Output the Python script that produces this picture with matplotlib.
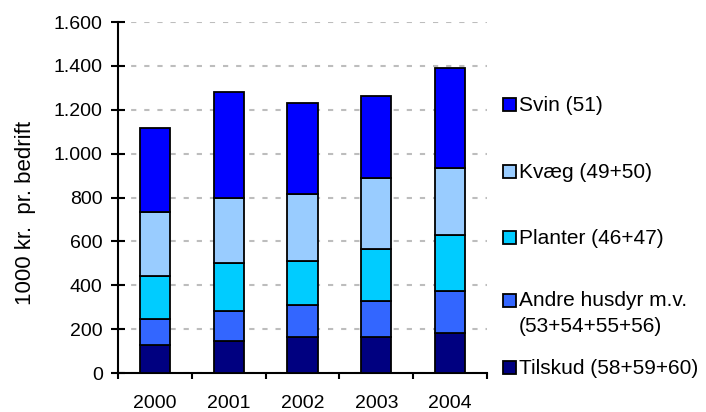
import numpy as np
import matplotlib.pyplot as plt
import matplotlib.patches as mpatches
from matplotlib.ticker import FuncFormatter, FixedLocator

plt.rcParams['font.family'] = ['Liberation Sans', 'DejaVu Sans']

years = ['2000', '2001', '2002', '2003', '2004']

# 1000 kr. pr. bedrift, stacked from the bottom
tilskud = [128, 146, 163, 165, 182]
andre = [118, 135, 147, 163, 192]
planter = [197, 219, 199, 235, 253]
kvaeg = [290, 297, 306, 325, 308]
svin = [384, 485, 414, 375, 456]

series = [
    ('Tilskud (58+59+60)', tilskud, '#000080'),
    ('Andre husdyr m.v.\n(53+54+55+56)', andre, '#3366FF'),
    ('Planter (46+47)', planter, '#00CCFF'),
    ('Kvæg (49+50)', kvaeg, '#99CCFF'),
    ('Svin (51)', svin, '#0000FF'),
]

W, H = 706, 412
fig = plt.figure(figsize=(W / 100, H / 100), dpi=100)
ax = fig.add_axes([118 / W, 1 - 373 / H, 369 / W, 351 / H])

x = np.arange(len(years))
bottom = np.zeros(len(years))
for label, vals, color in series:
    ax.bar(x, vals, 0.41, bottom=bottom, color=color, edgecolor='black',
           linewidth=1.3, zorder=3)
    bottom += np.array(vals)

ax.set_xlim(-0.5, len(years) - 0.5)
ax.set_ylim(0, 1600)
ax.set_yticks(np.arange(0, 1601, 200))
ax.yaxis.set_major_formatter(FuncFormatter(lambda v, p: f'{int(v):,}'.replace(',', '.')))
ax.yaxis.grid(True, color='#BDBDBD', linestyle=(0, (2.5, 3.8)), linewidth=1.5, zorder=0)

ax.set_xticks(x)
ax.set_xticklabels(years)
ax.tick_params(axis='x', which='major', length=0, pad=16, labelsize=14)
ax.xaxis.set_minor_locator(FixedLocator(np.arange(-0.5, len(years), 1.0)))
ax.tick_params(axis='x', which='minor', length=4, width=1.5, direction='out')
ax.tick_params(axis='y', length=10, width=1.5, direction='inout', pad=6, labelsize=14)

for s in ['top', 'right']:
    ax.spines[s].set_visible(False)
for s in ['left', 'bottom']:
    ax.spines[s].set_linewidth(1.5)

ax.set_ylabel('1000 kr.  pr. bedrift', fontsize=16)
ax.yaxis.set_label_coords(-82 / 369, 0.455)

# legend, drawn by hand (top entry first)
leg_y = [104.5, 171, 237.5, 300, 367.5]
for (label, vals, color), yy in zip(series[::-1], leg_y):
    fig.patches.append(mpatches.Rectangle((503 / W, 1 - (yy + 6.5) / H), 13 / W, 13 / H,
                                          transform=fig.transFigure, facecolor=color,
                                          edgecolor='black', linewidth=1.3))
    for i, line in enumerate(label.split('\n')):
        fig.text(519 / W, 1 - (yy + 1 + 25 * i) / H, line, fontsize=15,
                 va='center', ha='left')

fig.savefig('out.png', dpi=100)
